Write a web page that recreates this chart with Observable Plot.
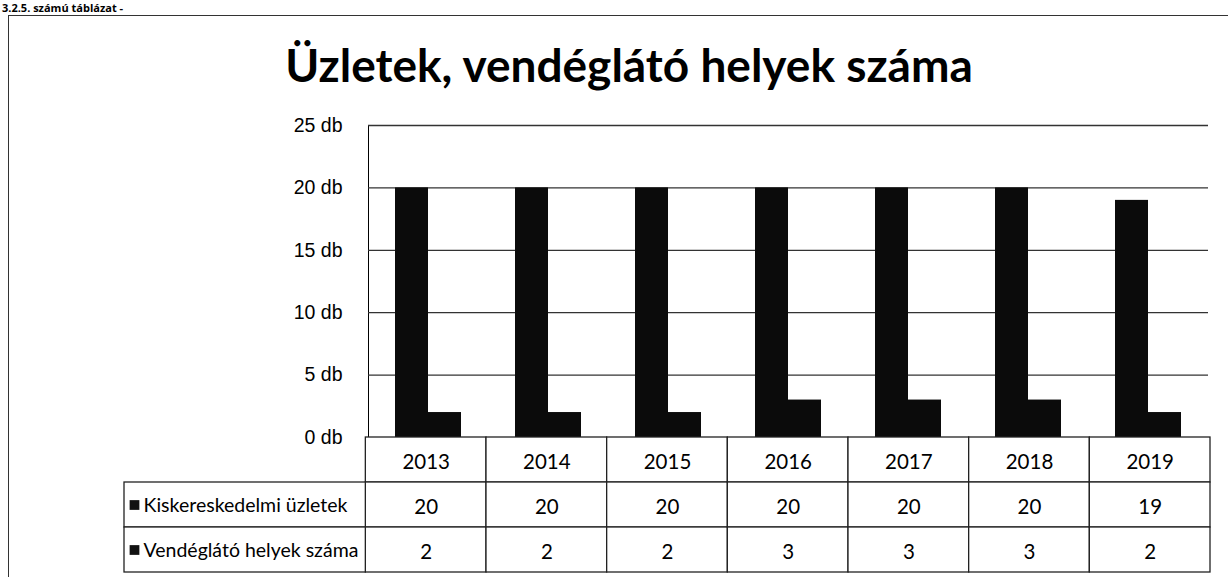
<!DOCTYPE html>
<html>
<head>
<meta charset="utf-8">
<script src="https://cdn.jsdelivr.net/npm/d3@7"></script>
<script src="https://cdn.jsdelivr.net/npm/@observablehq/plot@0.6"></script>
<style>
  html, body { margin: 0; padding: 0; background: #fff; }
  #page { position: relative; width: 1228px; height: 577px; overflow: hidden; background: #fff; }
  #frame { position: absolute; left: 8px; top: 15px; width: 1260px; height: 620px;
           border-left: 1.5px solid #333; border-top: 1.5px solid #333; }
  #caption { position: absolute; left: 2px; top: 2px; font: bold 11px "Open Sans", sans-serif; line-height: 12px; color: #000; white-space: nowrap; }
  #title { position: absolute; left: 0; width: 1258px; top: 37px; text-align: center;
           font: bold 46px Lato, sans-serif; color: #000; line-height: 1.2; }
  #chart { position: absolute; left: 0; top: 0; }
  #table { position: absolute; left: 0; top: 437px; }
</style>
</head>
<body>
<div id="page">
  <div id="caption">3.2.5. számú táblázat -</div>
  <div id="frame"></div>
  <div id="chart"></div>
  <div id="title">Üzletek, vendéglátó helyek száma</div>
  <div id="table"></div>
</div>
<script>
// ---- data ----
const years = ["2013", "2014", "2015", "2016", "2017", "2018", "2019"];
const seriesNames = ["Kiskereskedelmi üzletek", "Vendéglátó helyek száma"];
const kiskereskedelmi = [20, 20, 20, 20, 20, 20, 19];
const vendeglato = [2, 2, 2, 3, 3, 3, 2];
const yTicks = [0, 5, 10, 15, 20, 25];
const unit = " db";

const seriesValues = [kiskereskedelmi, vendeglato];
const bars = [];
years.forEach((yr, i) => {
  seriesNames.forEach((s, k) => bars.push({year: yr, series: s, value: seriesValues[k][i]}));
});

// ---- chart ----
const chart = Plot.plot({
  width: 1228,
  height: 440,
  marginLeft: 366,
  marginRight: 18,
  marginTop: 125,
  marginBottom: 3,
  style: {fontFamily: "'Liberation Sans', Arial, sans-serif", fontSize: "19.5px", color: "#000", background: "transparent", overflow: "visible"},
  fx: {domain: years, padding: 0, axis: null, label: null},
  x: {domain: seriesNames, paddingInner: 0, paddingOuter: 0.773, axis: null},
  y: {domain: [0, 25], ticks: yTicks, tickFormat: d => d + unit, tickSize: 0, tickPadding: 26, line: true, label: null},
  marks: [
    Plot.ruleY(yTicks.filter(d => d > 0), {stroke: "#333", strokeWidth: 1.3}),
    Plot.barY(bars, {fx: "year", x: "series", y: "value", fill: "#0b0b0b"})
  ]
});
document.getElementById("chart").appendChild(chart);

// ---- data table ----
const valueCells = [];
years.forEach((yr, i) => {
  valueCells.push({x1: i, x2: i + 1, row: "year", text: yr});
  seriesNames.forEach((s, k) => valueCells.push({x1: i, x2: i + 1, row: s, text: String(seriesValues[k][i])}));
});
const labelCells = seriesNames.map(s => ({x1: -2, x2: 0, row: s, text: s}));

const table = Plot.plot({
  width: 1228,
  height: 140,
  marginLeft: 124,
  marginRight: 18,
  marginTop: 0,
  marginBottom: 5,
  style: {fontFamily: "Lato, sans-serif", fontSize: "20.5px", color: "#000", background: "transparent", overflow: "visible"},
  x: {domain: [-2, years.length], axis: null},
  y: {domain: ["year", ...seriesNames], padding: 0, axis: null},
  marks: [
    Plot.barX(valueCells.concat(labelCells), {x1: "x1", x2: "x2", y: "row", fill: "white", stroke: "#222", strokeWidth: 1.3, inset: 0}),
    Plot.text(valueCells, {x: d => (d.x1 + d.x2) / 2, y: "row", text: "text", fill: "#000", dy: 2}),
    Plot.dot(labelCells, {x: "x1", y: "row", symbol: "square", r: 5.5, fill: "#111", stroke: null, dx: 10}),
    Plot.text(labelCells, {x: "x1", y: "row", text: "text", textAnchor: "start", dx: 19, fill: "#000", fontSize: 19.5, dy: 1})
  ]
});
document.getElementById("table").appendChild(table);
</script>
</body>
</html>
